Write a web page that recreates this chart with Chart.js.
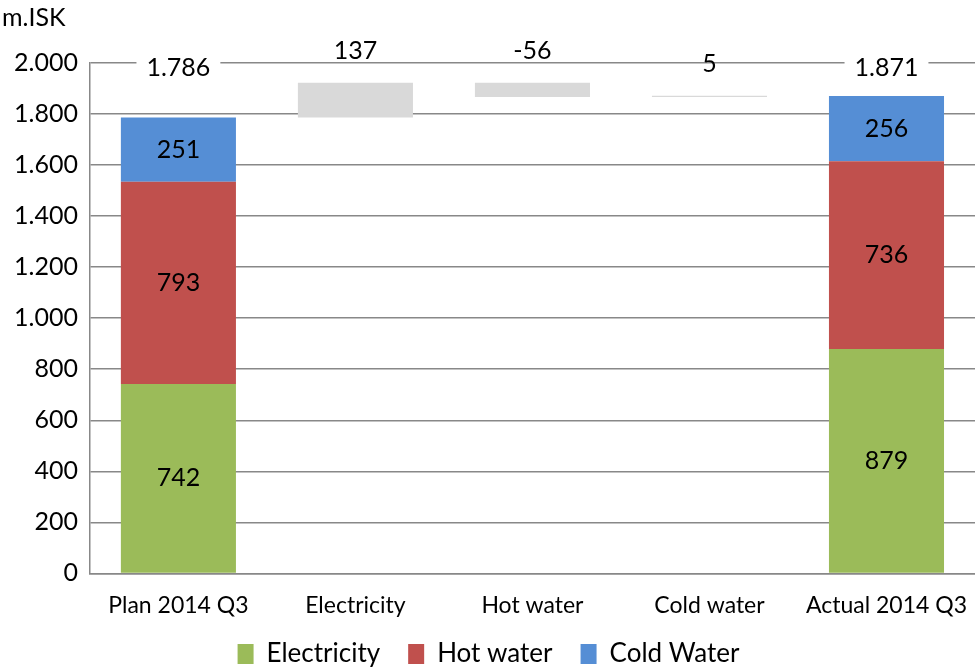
<!DOCTYPE html>
<html>
<head>
<meta charset="utf-8">
<script src="https://cdn.jsdelivr.net/npm/chart.js@4"></script>
<style>
  html, body { margin: 0; padding: 0; background: #fff; }
  #wrap { width: 975px; height: 667px; }
</style>
</head>
<body>
<div id="wrap"><canvas id="waterfall"></canvas></div>
<script>
// data
var categories = ['Plan 2014 Q3', 'Electricity', 'Hot water', 'Cold water', 'Actual 2014 Q3'];
var electricity = [742, null, null, null, 879];
var hotWater = [793, null, null, null, 736];
var coldWater = [251, null, null, null, 256];
var changes = [null, 137, -56, 5, null];
var yTicks = [0, 200, 400, 600, 800, 1000, 1200, 1400, 1600, 1800, 2000];

function fmt(v) {
  return String(v).replace(/\B(?=(\d{3})+(?!\d))/g, '.');
}

// totals of the stacked bars
var totals = categories.map(function (c, i) {
  if (electricity[i] == null) return null;
  return electricity[i] + hotWater[i] + coldWater[i];
});

// floating bars for the changes, starting from the plan total
var running = totals[0];
var changeBars = changes.map(function (d) {
  if (d == null) return null;
  var bar = [running, running + d];
  running += d;
  return bar;
});

var FONT = 'Lato, "Open Sans", sans-serif';
Chart.defaults.color = '#000';
Chart.defaults.font.family = FONT;

var labelPlugin = {
  id: 'labels',
  afterDatasetsDraw: function (chart) {
    var ctx = chart.ctx;
    var yScale = chart.scales.y;
    ctx.save();
    ctx.textAlign = 'center';
    ctx.textBaseline = 'middle';
    ctx.fillStyle = '#000';
    ctx.font = '25px ' + FONT;

    // values inside the stacked segments
    [0, 1, 2].forEach(function (di) {
      var meta = chart.getDatasetMeta(di);
      meta.data.forEach(function (el, i) {
        var v = chart.data.datasets[di].data[i];
        if (v == null) return;
        ctx.fillText(fmt(v), el.x, (el.y + el.base) / 2);
      });
    });

    // totals at top of the plot, on white
    var metaTot = chart.getDatasetMeta(0);
    totals.forEach(function (t, i) {
      if (t == null) return;
      var x = metaTot.data[i].x;
      var y = yScale.getPixelForValue(yScale.max) + 5;
      var w = ctx.measureText(fmt(t)).width + 20;
      ctx.fillStyle = '#fff';
      ctx.fillRect(x - w / 2, y - 15, w, 30);
      ctx.fillStyle = '#000';
      ctx.fillText(fmt(t), x, y);
    });

    // change labels above grey bars
    var metaChg = chart.getDatasetMeta(3);
    changes.forEach(function (d, i) {
      if (d == null) return;
      var el = metaChg.data[i];
      var top = Math.min(el.y, el.base);
      ctx.fillText(String(d), el.x, top - 32);
    });
    ctx.restore();
  }
};

new Chart(document.getElementById('waterfall'), {
  type: 'bar',
  data: {
    labels: categories,
    datasets: [
      { label: 'Electricity', data: electricity, backgroundColor: '#9BBB59', stack: 'total' },
      { label: 'Hot water', data: hotWater, backgroundColor: '#C0504D', stack: 'total' },
      { label: 'Cold Water', data: coldWater, backgroundColor: '#558ED5', stack: 'total' },
      { label: 'Change', data: changeBars, backgroundColor: '#D9D9D9', stack: 'delta', grouped: false }
    ]
  },
  options: {
    responsive: true,
    maintainAspectRatio: false,
    animation: false,
    datasets: { bar: { categoryPercentage: 1, barPercentage: 0.65 } },
    layout: { padding: { left: 2, right: 0, top: 0, bottom: -10 } },
    scales: {
      x: {
        stacked: true,
        grid: { display: false, drawTicks: false },
        border: { display: true, color: '#888', width: 1.5 },
        ticks: { font: { size: 23 }, padding: 18, color: '#000' },
        afterFit: function (scale) {
          scale.height += 2;
          scale.paddingLeft = 0;
          scale.paddingRight = 0;
        }
      },
      y: {
        stacked: true,
        min: 0,
        max: 2000,
        afterBuildTicks: function (scale) {
          scale.ticks = yTicks.map(function (v) { return { value: v }; });
        },
        grid: { color: '#888', lineWidth: 1.5, drawTicks: false },
        border: { display: true, color: '#888', width: 1.5 },
        ticks: {
          font: { size: 25 },
          padding: 12,
          color: '#000',
          callback: function (v) { return fmt(v); }
        }
      }
    },
    plugins: {
      title: {
        display: true,
        text: 'm.ISK',
        align: 'start',
        color: '#000',
        font: { size: 25, weight: 'normal' },
        padding: { top: 3, bottom: 30 }
      },
      legend: {
        position: 'bottom',
        labels: {
          generateLabels: function (chart) {
            var items = Chart.defaults.plugins.legend.labels.generateLabels(chart)
              .filter(function (it) { return it.datasetIndex < 3; });
            return items.map(function (it, k) {
              if (k < items.length - 1) it.text = it.text + '\u2003\u2005';
              return it;
            });
          },
          boxWidth: 16,
          boxHeight: 20,
          padding: 2,
          color: '#000',
          font: { size: 26 }
        }
      },
      tooltip: { enabled: false }
    }
  },
  plugins: [labelPlugin]
});
</script>
</body>
</html>
